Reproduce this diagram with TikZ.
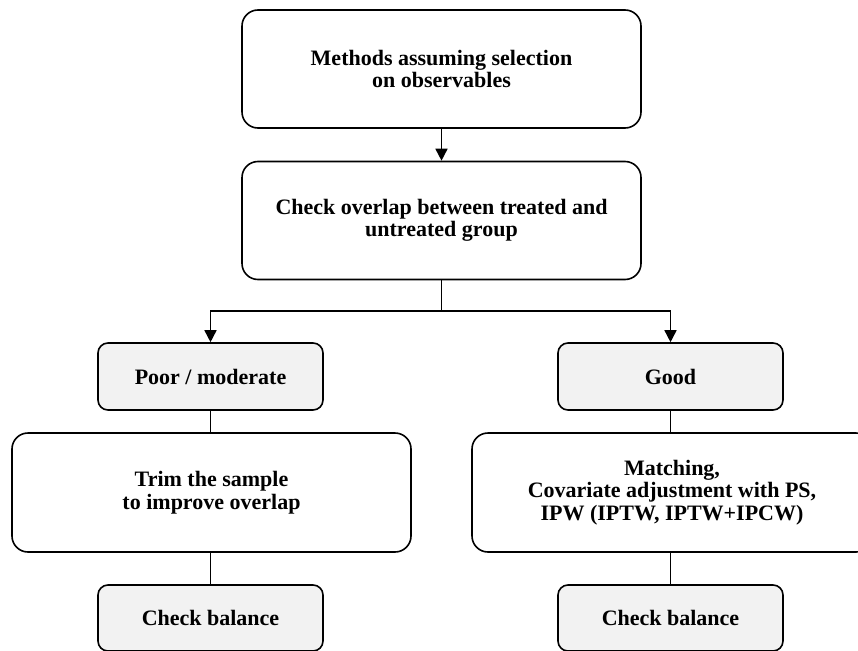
\documentclass[tikz,border=0pt]{standalone}
\usepackage{fontspec}
\setmainfont{Liberation Serif}
\usetikzlibrary{arrows.meta}
\begin{document}
\begin{tikzpicture}[x=1pt,y=-1pt,
  bigbox/.style={draw, line width=1.6pt, rounded corners=16pt, fill=white, align=center, font=\bfseries\fontsize{22}{22.5}\selectfont, inner sep=0pt},
  smallbox/.style={draw, line width=1.6pt, rounded corners=10pt, fill=gray!10, align=center, font=\bfseries\fontsize{22}{22.5}\selectfont, inner sep=0pt, minimum width=225pt},
  conn/.style={line width=1.6pt},
  arr/.style={line width=1.6pt, -{Triangle[length=12pt,width=12pt]}}]
\useasboundingbox (0,0) rectangle (858,650);
\clip (0,0) rectangle (858,650);
\node[bigbox, minimum width=399pt, minimum height=118pt] (top) at (441.5,69) {Methods assuming selection\\on observables};
\node[bigbox, minimum width=399pt, minimum height=118pt] (over) at (441.5,220.5) {Check overlap between treated and\\untreated group};
\node[smallbox, minimum height=67pt] (poor) at (210.5,376.5) {Poor / moderate};
\node[smallbox, minimum height=67pt] (good) at (670.5,376.5) {Good};
\node[bigbox, minimum width=399pt, minimum height=119pt] (trim) at (211.5,492.5) {Trim the sample\\to improve overlap};
\node[bigbox, minimum width=400pt, minimum height=119pt] (match) at (672,492.5) {Matching,\\Covariate adjustment with PS,\\IPW (IPTW, IPTW+IPCW)};
\node[smallbox, minimum height=66pt] (cbl) at (210.5,618) {Check balance};
\node[smallbox, minimum height=66pt] (cbr) at (670.5,618) {Check balance};
\coordinate (split) at (441.5,311);
\draw[arr] (top.south) -- (over.north);
\draw[conn] (over.south) -- (split);
\draw[arr] (split) -| (poor.north);
\draw[arr] (split) -| (good.north);
\draw[conn] (poor.south) -- (trim.north -| poor.south);
\draw[conn] (good.south) -- (match.north -| good.south);
\draw[conn] (trim.south -| cbl.north) -- (cbl.north);
\draw[conn] (match.south -| cbr.north) -- (cbr.north);
\end{tikzpicture}
\end{document}
